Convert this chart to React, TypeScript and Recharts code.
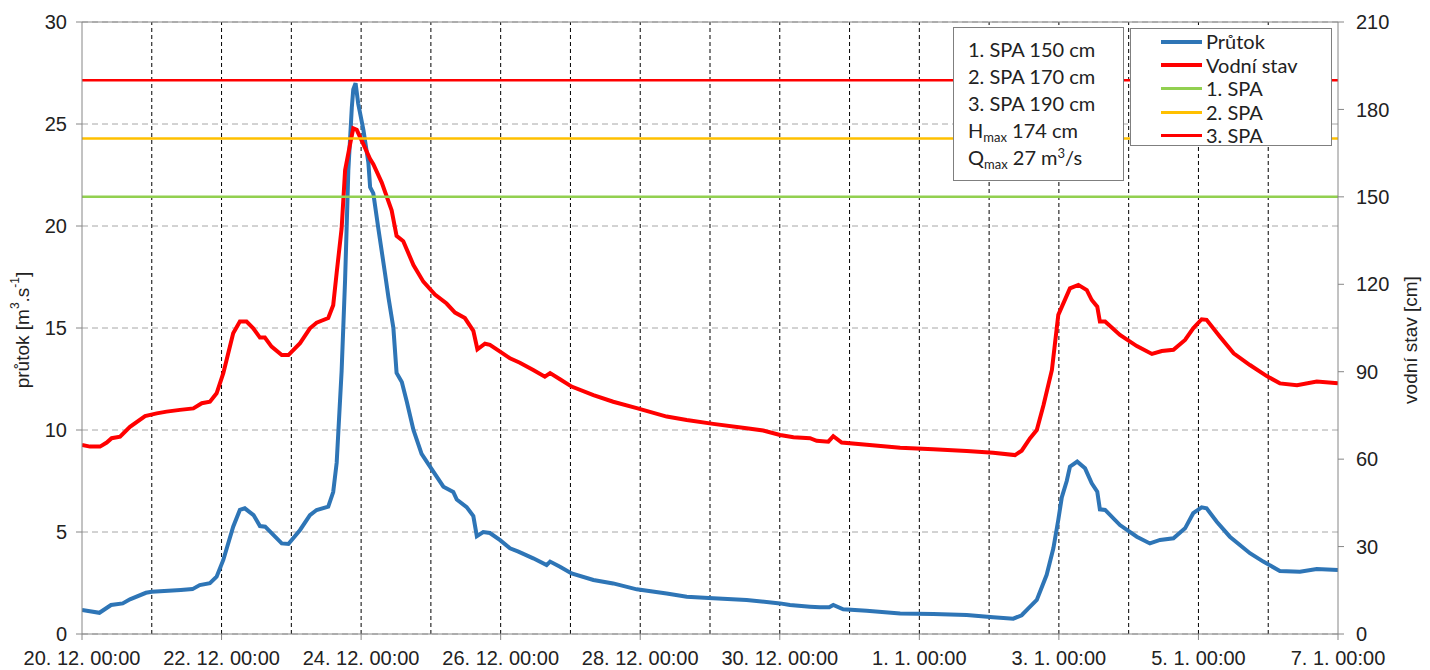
import React from 'react';
import { LineChart, Line, XAxis, YAxis, CartesianGrid, ReferenceLine } from 'recharts';

// hours since 20. 12. 00:00
const qHours = [0, 6, 10, 14, 16.5, 22, 24, 34, 38, 40.5, 44, 46.3, 48.6, 52, 54.3, 56, 59, 61.2, 63, 68.7, 71, 75, 78.4, 80.7, 84.7, 86.4, 87.6, 89.3, 90.5, 91.6, 92.8, 93.3, 94.1, 95, 96.8, 98.5, 99.1, 100.2, 101.9, 104.2, 105.4, 107.1, 108.2, 110, 111.7, 114, 116.8, 119.7, 124.3, 127.7, 128.9, 132.3, 134.6, 135.8, 138, 140.3, 143.8, 147.2, 150.1, 155.2, 159.8, 161, 164.4, 168.4, 175.9, 182.7, 190.8, 201.1, 208, 217.1, 228.6, 240.1, 243.5, 250.4, 253.8, 257, 258.4, 261.8, 269.9, 281.4, 292.8, 304.3, 313.4, 320.3, 323.2, 325.5, 328.4, 331.8, 334.1, 335.8, 337, 338.7, 339.8, 342.3, 345, 347.3, 349.2, 350.1, 351.9, 357, 362.8, 367.3, 370.8, 375.4, 379.4, 382.2, 385.1, 386.8, 390.3, 394.8, 401.7, 406.3, 412, 418.9, 424.7, 432];
const qValues = [1.18, 1.04, 1.42, 1.5, 1.7, 2.02, 2.07, 2.16, 2.2, 2.4, 2.49, 2.81, 3.63, 5.26, 6.08, 6.16, 5.83, 5.29, 5.26, 4.44, 4.41, 5.1, 5.83, 6.08, 6.24, 6.96, 8.4, 12.9, 17.4, 22.7, 25.8, 26.7, 27.0, 26.0, 24.7, 23.1, 21.9, 21.6, 19.9, 17.7, 16.5, 15.0, 12.8, 12.35, 11.4, 10.0, 8.83, 8.2, 7.22, 6.96, 6.59, 6.22, 5.78, 4.8, 5.0, 4.95, 4.6, 4.2, 4.04, 3.71, 3.38, 3.55, 3.3, 2.97, 2.65, 2.48, 2.19, 1.99, 1.83, 1.75, 1.67, 1.5, 1.42, 1.34, 1.31, 1.31, 1.42, 1.21, 1.14, 1.01, 0.98, 0.93, 0.82, 0.75, 0.92, 1.26, 1.67, 2.9, 4.2, 5.6, 6.7, 7.5, 8.2, 8.45, 8.12, 7.39, 6.98, 6.11, 6.08, 5.34, 4.77, 4.44, 4.61, 4.69, 5.18, 5.92, 6.21, 6.16, 5.5, 4.77, 3.96, 3.55, 3.09, 3.05, 3.19, 3.14];

const hHours = [0, 2.75, 6.2, 8.5, 10.2, 13.1, 16.5, 21.7, 25.7, 29.1, 33.7, 38.3, 41.2, 44, 46.3, 48.6, 52, 54.3, 56.6, 58.9, 61.2, 62.9, 65.2, 68.7, 71, 75, 78.4, 80.7, 84.7, 86.4, 87.6, 89.3, 90.5, 92.2, 93.3, 94.5, 96.8, 99.1, 100.2, 103.1, 106.5, 108.2, 110.5, 114, 117.4, 121.4, 125.4, 128.3, 131.7, 134.6, 136, 138.6, 140.3, 143.8, 147.2, 150.6, 155.2, 159.2, 161, 164.4, 168.4, 175.9, 182.7, 190.8, 201.1, 208, 217.1, 228.6, 234.3, 240.1, 244.7, 250.4, 252.7, 256.7, 258.4, 261.3, 269.9, 281.4, 292.8, 304.3, 313.4, 320.9, 323.2, 326.1, 328.4, 330.7, 333.6, 335.8, 339.8, 342.7, 345.6, 347.3, 349.2, 350.1, 351.9, 357, 362.8, 368, 371.4, 375.4, 379.4, 382.2, 385.1, 386.8, 391.4, 396.1, 401.7, 407.5, 412, 417.9, 424.7, 432];
const hValues = [64.9, 64.3, 64.3, 65.7, 67.2, 67.7, 71.1, 74.8, 75.7, 76.3, 76.9, 77.4, 79.2, 79.7, 82.6, 89.5, 103.2, 107.2, 107.2, 104.9, 101.7, 101.7, 98.6, 95.7, 95.7, 99.8, 104.9, 106.8, 108.4, 112.8, 124, 139.2, 159.2, 168, 173.5, 173, 168, 163, 161.2, 154.9, 145.4, 136.6, 134.8, 126.6, 120.9, 116.5, 113.4, 110.3, 108.4, 104, 97.7, 99.6, 99.2, 96.9, 94.6, 93.1, 90.6, 88.3, 89.5, 87.4, 84.9, 82, 79.7, 77.5, 74.6, 73.4, 72.1, 70.6, 69.8, 68.3, 67.5, 67.2, 66.3, 66, 67.9, 65.7, 64.9, 63.9, 63.4, 62.8, 62.2, 61.4, 62.9, 67.2, 70, 78.5, 90.6, 109.5, 118.6, 119.8, 118, 114.6, 112.3, 107.2, 107.2, 102.6, 98.8, 96.1, 97.1, 97.5, 100.9, 104.9, 108, 107.8, 102, 96.3, 92.3, 88.5, 86, 85.4, 86.6, 86];

const xTickHours = [0, 48, 96, 144, 192, 240, 288, 336, 384, 432];
const xTickLabels = ['20. 12. 00:00', '22. 12. 00:00', '24. 12. 00:00', '26. 12. 00:00', '28. 12. 00:00', '30. 12. 00:00', '1. 1. 00:00', '3. 1. 00:00', '5. 1. 00:00', '7. 1. 00:00'];
const dayLines = [24, 48, 72, 96, 120, 144, 168, 192, 216, 240, 264, 288, 312, 336, 360, 384, 408];
const leftTicks = [0, 5, 10, 15, 20, 25, 30];
const rightTicks = [0, 30, 60, 90, 120, 150, 180, 210];

const spaLevels = [150, 170, 190];
const spaColors = ['#92D050', '#FFC000', '#FF0000'];

const legendLabels = ['Průtok', 'Vodní stav', '1. SPA', '2. SPA', '3. SPA'];
const legendColors = ['#2E75B6', '#FF0000', '#92D050', '#FFC000', '#FF0000'];

const BLUE = '#2E75B6';
const RED = '#FF0000';
const AXIS = '#868686';

const qData = qHours.map((t, i) => ({ t, q: qValues[i] }));
const hData = hHours.map((t, i) => ({ t, h: hValues[i] }));

const tickStyle = { fontFamily: '"Liberation Sans", Arial, sans-serif', fontSize: 20, fill: '#222' };
const boxFont = 'Lato, "Open Sans", sans-serif';
const smallText = { fontSize: 13, lineHeight: 0, position: 'relative' as const, verticalAlign: 'baseline' };

const LeftTitle = () => (
  <text x={22} y={330} transform="rotate(-90 22 330)" textAnchor="middle" dominantBaseline="central"
    style={{ fontFamily: '"Liberation Sans", Arial, sans-serif', fontSize: 19, fill: '#222' }}>
    průtok [m<tspan dy={-7} fontSize={12}>3</tspan><tspan dy={7}>.s</tspan>
    <tspan dy={-7} fontSize={12}>-1</tspan><tspan dy={7}>]</tspan>
  </text>
);

const RightTitle = () => (
  <text x={1410} y={340} transform="rotate(-90 1410 340)" textAnchor="middle" dominantBaseline="central"
    style={{ fontFamily: '"Liberation Sans", Arial, sans-serif', fontSize: 19, fill: '#222' }}>
    vodní stav [cm]
  </text>
);

export default function App() {
  return (
    <div style={{ position: 'absolute', left: 0, top: 0, width: 1430, height: 670, background: '#fff' }}>
      <LineChart width={1430} height={670} margin={{ top: 22, right: 0, bottom: 0, left: 0 }}>
        <CartesianGrid yAxisId="left" vertical={false} stroke="#a6a6a6" strokeDasharray="6 4" />
        <XAxis dataKey="t" type="number" domain={[0, 432]} ticks={xTickHours} interval={0}
          tickFormatter={(v: number) => xTickLabels[xTickHours.indexOf(v)] ?? ''}
          height={36} tickSize={6} tickMargin={11} stroke={AXIS} tick={tickStyle} allowDataOverflow />
        <YAxis yAxisId="left" orientation="left" domain={[0, 30]} ticks={leftTicks} interval={0}
          width={82} tickSize={6} tickMargin={9} stroke={AXIS} tick={tickStyle} label={<LeftTitle />} />
        <YAxis yAxisId="right" orientation="right" domain={[0, 210]} ticks={rightTicks} interval={0}
          width={92} tickSize={6} tickMargin={12} stroke={AXIS} tick={tickStyle} label={<RightTitle />} />
        {dayLines.map((d) => (
          <ReferenceLine key={d} yAxisId="left" x={d} stroke="#000" strokeWidth={1} strokeDasharray="4 3" />
        ))}
        <ReferenceLine yAxisId="left" y={30} stroke={AXIS} strokeWidth={1} />
        <Line yAxisId="left" data={qData} dataKey="q" type="linear" stroke={BLUE} strokeWidth={4}
          dot={false} isAnimationActive={false} />
        <Line yAxisId="right" data={hData} dataKey="h" type="linear" stroke={RED} strokeWidth={4}
          dot={false} isAnimationActive={false} />
        {spaLevels.map((lvl, i) => (
          <ReferenceLine key={lvl} yAxisId="right" y={lvl} stroke={spaColors[i]} strokeWidth={2.5} />
        ))}
      </LineChart>

      <div style={{
        position: 'absolute', left: 953, top: 27, width: 171, height: 154, boxSizing: 'border-box',
        border: '1.5px solid #7f7f7f', background: '#fff', padding: '8px 0 0 14px',
        fontFamily: boxFont, fontSize: 20, lineHeight: '27px', color: '#222',
      }}>
        <div>1. SPA 150 cm</div>
        <div>2. SPA 170 cm</div>
        <div>3. SPA 190 cm</div>
        <div>H<span style={{ ...smallText, top: 4 }}>max</span> 174 cm</div>
        <div>Q<span style={{ ...smallText, top: 4 }}>max</span> 27 m<span style={{ ...smallText, top: -7 }}>3</span>/s</div>
      </div>

      <div style={{
        position: 'absolute', left: 1130, top: 28, width: 202, height: 118, boxSizing: 'border-box',
        border: '1.5px solid #7f7f7f', background: '#fff', padding: '1px 0 0 30px',
        fontFamily: boxFont, fontSize: 20, lineHeight: '23.5px', color: '#222',
      }}>
        {legendLabels.map((lab, i) => (
          <div key={lab} style={{ display: 'flex', alignItems: 'center', height: 23.5 }}>
            <span style={{ display: 'inline-block', width: 41, height: i < 2 ? 4 : 3, background: legendColors[i], marginRight: 4 }} />
            <span>{lab}</span>
          </div>
        ))}
      </div>
    </div>
  );
}
